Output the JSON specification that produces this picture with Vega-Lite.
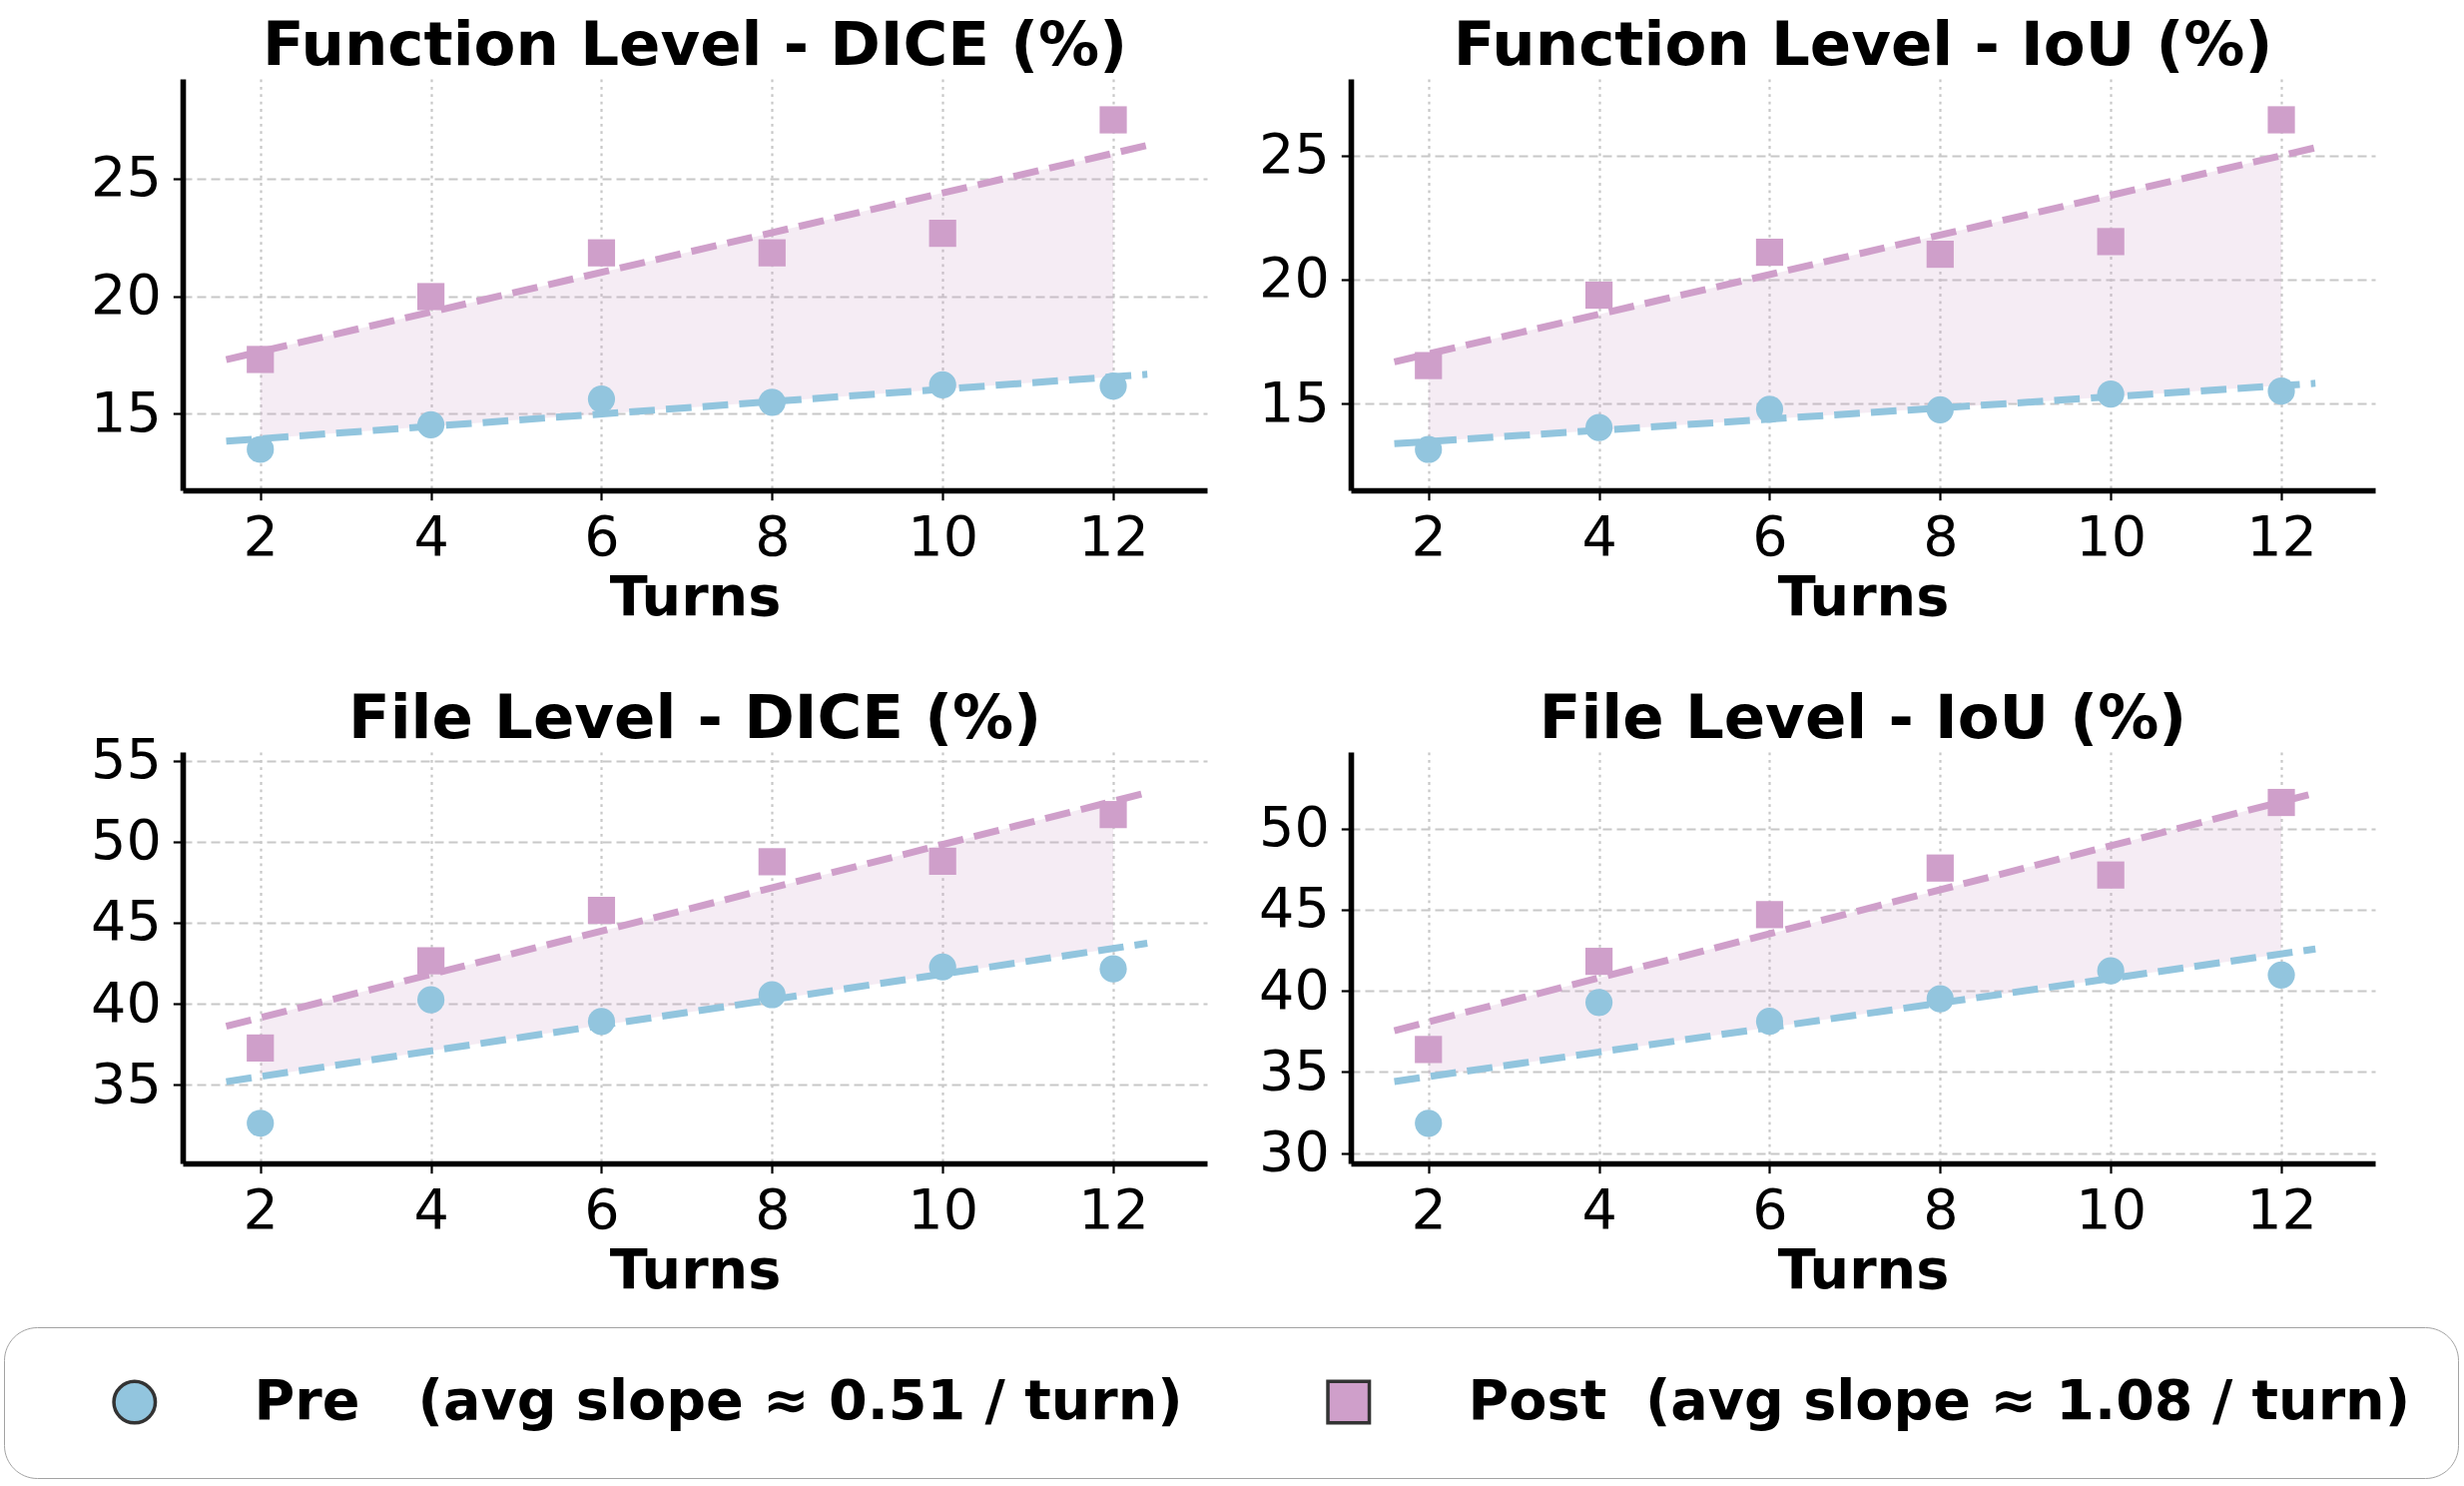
{
  "$schema": "https://vega.github.io/schema/vega-lite/v6.json",
  "padding": {"left": 3, "top": 16, "right": 0, "bottom": 0},
  "background": "white",
  "data": {"values": [
    {"panel": "fd", "turns": 2, "series": "Pre", "value": 13.49},
    {"panel": "fd", "turns": 4, "series": "Pre", "value": 14.53},
    {"panel": "fd", "turns": 6, "series": "Pre", "value": 15.63},
    {"panel": "fd", "turns": 8, "series": "Pre", "value": 15.49},
    {"panel": "fd", "turns": 10, "series": "Pre", "value": 16.23},
    {"panel": "fd", "turns": 12, "series": "Pre", "value": 16.18},
    {"panel": "fd", "turns": 2, "series": "Post", "value": 17.31},
    {"panel": "fd", "turns": 4, "series": "Post", "value": 19.98},
    {"panel": "fd", "turns": 6, "series": "Post", "value": 21.84},
    {"panel": "fd", "turns": 8, "series": "Post", "value": 21.84},
    {"panel": "fd", "turns": 10, "series": "Post", "value": 22.67},
    {"panel": "fd", "turns": 12, "series": "Post", "value": 27.49},
    {"panel": "fi", "turns": 2, "series": "Pre", "value": 13.15},
    {"panel": "fi", "turns": 4, "series": "Pre", "value": 14.03},
    {"panel": "fi", "turns": 6, "series": "Pre", "value": 14.77},
    {"panel": "fi", "turns": 8, "series": "Pre", "value": 14.75},
    {"panel": "fi", "turns": 10, "series": "Pre", "value": 15.38},
    {"panel": "fi", "turns": 12, "series": "Pre", "value": 15.5},
    {"panel": "fi", "turns": 2, "series": "Post", "value": 16.53},
    {"panel": "fi", "turns": 4, "series": "Post", "value": 19.37},
    {"panel": "fi", "turns": 6, "series": "Post", "value": 21.1},
    {"panel": "fi", "turns": 8, "series": "Post", "value": 21.02},
    {"panel": "fi", "turns": 10, "series": "Post", "value": 21.53},
    {"panel": "fi", "turns": 12, "series": "Post", "value": 26.44},
    {"panel": "ld", "turns": 2, "series": "Pre", "value": 32.63},
    {"panel": "ld", "turns": 4, "series": "Pre", "value": 40.25},
    {"panel": "ld", "turns": 6, "series": "Pre", "value": 38.91},
    {"panel": "ld", "turns": 8, "series": "Pre", "value": 40.56},
    {"panel": "ld", "turns": 10, "series": "Pre", "value": 42.27},
    {"panel": "ld", "turns": 12, "series": "Pre", "value": 42.15},
    {"panel": "ld", "turns": 2, "series": "Post", "value": 37.27},
    {"panel": "ld", "turns": 4, "series": "Post", "value": 42.65},
    {"panel": "ld", "turns": 6, "series": "Post", "value": 45.76},
    {"panel": "ld", "turns": 8, "series": "Post", "value": 48.76},
    {"panel": "ld", "turns": 10, "series": "Post", "value": 48.79},
    {"panel": "ld", "turns": 12, "series": "Post", "value": 51.67},
    {"panel": "li", "turns": 2, "series": "Pre", "value": 31.84},
    {"panel": "li", "turns": 4, "series": "Pre", "value": 39.29},
    {"panel": "li", "turns": 6, "series": "Pre", "value": 38.13},
    {"panel": "li", "turns": 8, "series": "Pre", "value": 39.52},
    {"panel": "li", "turns": 10, "series": "Pre", "value": 41.24},
    {"panel": "li", "turns": 12, "series": "Pre", "value": 40.98},
    {"panel": "li", "turns": 2, "series": "Post", "value": 36.39},
    {"panel": "li", "turns": 4, "series": "Post", "value": 41.82},
    {"panel": "li", "turns": 6, "series": "Post", "value": 44.7},
    {"panel": "li", "turns": 8, "series": "Post", "value": 47.57},
    {"panel": "li", "turns": 10, "series": "Post", "value": 47.14},
    {"panel": "li", "turns": 12, "series": "Post", "value": 51.61}
  ]},
  "columns": 2,
  "spacing": {"row": 262, "column": 144},
  "bounds": "flush",
  "concat": [
    {
      "width": 1026, "height": 412,
      "title": {"text": "Function Level - DICE (%)"},
      "transform": [{"filter": "datum.panel === 'fd'"}],
      "encoding": {"x": {"field": "turns", "type": "quantitative", "scale": {"domain": [1.09, 13.1], "nice": false, "zero": false}, "axis": {"values": [2, 4, 6, 8, 10, 12], "title": "Turns"}}},
      "layer": [
        {"transform": [{"regression": "value", "on": "turns", "groupby": ["series"], "extent": [2, 12]}, {"pivot": "series", "value": "value", "groupby": ["turns"]}],
         "mark": {"type": "area", "color": "#CF9FCA", "opacity": 0.2},
         "encoding": {"y": {"field": "Post", "type": "quantitative", "scale": {"domain": [11.75, 29.23], "nice": false, "zero": false}, "axis": {"values": [15, 20, 25], "title": null}}, "y2": {"field": "Pre"}}},
        {"transform": [{"regression": "value", "on": "turns", "groupby": ["series"], "extent": [1.6, 12.4]}],
         "mark": {"type": "line", "strokeWidth": 7, "strokeDash": [25.7, 11.1]},
         "encoding": {"y": {"field": "value", "type": "quantitative", "scale": {"domain": [11.75, 29.23], "nice": false, "zero": false}, "axis": {"values": [15, 20, 25], "title": null}}, "detail": {"field": "series"}, "color": {"condition": {"test": "datum.series === 'Pre'", "value": "#92C5DE"}, "value": "#CF9FCA"}}},
        {"mark": {"type": "point", "filled": true, "opacity": 1},
         "encoding": {"y": {"field": "value", "type": "quantitative", "scale": {"domain": [11.75, 29.23], "nice": false, "zero": false}, "axis": {"values": [15, 20, 25], "title": null}},
           "color": {"field": "series", "type": "nominal", "scale": {"domain": ["Pre", "Post"], "range": ["#92C5DE", "#CF9FCA"]},
             "legend": {"title": null, "orient": "none", "legendX": -179, "legendY": 1250, "direction": "horizontal",
               "labelExpr": "datum.value === 'Pre' ? 'Pre\u00a0\u00a0\u00a0(avg slope \u2248 0.51 / turn)' : 'Post\u00a0\u00a0(avg slope \u2248 1.08 / turn)'",
               "symbolOffset": 56, "labelOffset": 92, "columnPadding": 82, "padding": 47,
               "strokeColor": "#a3a3a3", "cornerRadius": 33, "fillColor": "#ffffff",
               "symbolSize": 1722, "symbolStrokeColor": "#333333", "symbolStrokeWidth": 3.5,
               "labelFont": "DejaVu Sans", "labelFontSize": 55.6, "labelFontWeight": "bold", "labelColor": "#000000", "labelLimit": 3000,
               "encode": {"legend": {"update": {"strokeWidth": {"value": 4}}}, "symbols": {"update": {"size": {"signal": "datum.value === 'Pre' ? 992 : 1722"}, "stroke": {"value": "#333333"}, "strokeWidth": {"value": 3.5}}}}}},
           "shape": {"field": "series", "type": "nominal", "scale": {"domain": ["Pre", "Post"], "range": ["circle", "square"]}},
           "size": {"value": 740}}}
      ]
    },
    {
      "width": 1026, "height": 412,
      "title": {"text": "Function Level - IoU (%)"},
      "transform": [{"filter": "datum.panel === 'fi'"}],
      "encoding": {"x": {"field": "turns", "type": "quantitative", "scale": {"domain": [1.09, 13.1], "nice": false, "zero": false}, "axis": {"values": [2, 4, 6, 8, 10, 12], "title": "Turns"}}},
      "layer": [
        {"transform": [{"regression": "value", "on": "turns", "groupby": ["series"], "extent": [2, 12]}, {"pivot": "series", "value": "value", "groupby": ["turns"]}],
         "mark": {"type": "area", "color": "#CF9FCA", "opacity": 0.2},
         "encoding": {"y": {"field": "Post", "type": "quantitative", "scale": {"domain": [11.5, 28.09], "nice": false, "zero": false}, "axis": {"values": [15, 20, 25], "title": null}}, "y2": {"field": "Pre"}}},
        {"transform": [{"regression": "value", "on": "turns", "groupby": ["series"], "extent": [1.6, 12.4]}],
         "mark": {"type": "line", "strokeWidth": 7, "strokeDash": [25.7, 11.1]},
         "encoding": {"y": {"field": "value", "type": "quantitative", "scale": {"domain": [11.5, 28.09], "nice": false, "zero": false}, "axis": {"values": [15, 20, 25], "title": null}}, "detail": {"field": "series"}, "color": {"condition": {"test": "datum.series === 'Pre'", "value": "#92C5DE"}, "value": "#CF9FCA"}}},
        {"mark": {"type": "point", "filled": true, "opacity": 1},
         "encoding": {"y": {"field": "value", "type": "quantitative", "scale": {"domain": [11.5, 28.09], "nice": false, "zero": false}, "axis": {"values": [15, 20, 25], "title": null}},
           "color": {"field": "series", "type": "nominal", "scale": {"domain": ["Pre", "Post"], "range": ["#92C5DE", "#CF9FCA"]}},
           "shape": {"field": "series", "type": "nominal", "scale": {"domain": ["Pre", "Post"], "range": ["circle", "square"]}},
           "size": {"value": 740}}}
      ]
    },
    {
      "width": 1026, "height": 412,
      "title": {"text": "File Level - DICE (%)", "offset": -17.7},
      "transform": [{"filter": "datum.panel === 'ld'"}],
      "encoding": {"x": {"field": "turns", "type": "quantitative", "scale": {"domain": [1.09, 13.1], "nice": false, "zero": false}, "axis": {"values": [2, 4, 6, 8, 10, 12], "title": "Turns"}}},
      "layer": [
        {"transform": [{"regression": "value", "on": "turns", "groupby": ["series"], "extent": [2, 12]}, {"pivot": "series", "value": "value", "groupby": ["turns"]}],
         "mark": {"type": "area", "color": "#CF9FCA", "opacity": 0.2},
         "encoding": {"y": {"field": "Post", "type": "quantitative", "scale": {"domain": [30.15, 55.53], "nice": false, "zero": false}, "axis": {"values": [35, 40, 45, 50, 55], "title": null}}, "y2": {"field": "Pre"}}},
        {"transform": [{"regression": "value", "on": "turns", "groupby": ["series"], "extent": [1.6, 12.4]}],
         "mark": {"type": "line", "strokeWidth": 7, "strokeDash": [25.7, 11.1]},
         "encoding": {"y": {"field": "value", "type": "quantitative", "scale": {"domain": [30.15, 55.53], "nice": false, "zero": false}, "axis": {"values": [35, 40, 45, 50, 55], "title": null}}, "detail": {"field": "series"}, "color": {"condition": {"test": "datum.series === 'Pre'", "value": "#92C5DE"}, "value": "#CF9FCA"}}},
        {"mark": {"type": "point", "filled": true, "opacity": 1},
         "encoding": {"y": {"field": "value", "type": "quantitative", "scale": {"domain": [30.15, 55.53], "nice": false, "zero": false}, "axis": {"values": [35, 40, 45, 50, 55], "title": null}},
           "color": {"field": "series", "type": "nominal", "scale": {"domain": ["Pre", "Post"], "range": ["#92C5DE", "#CF9FCA"]}},
           "shape": {"field": "series", "type": "nominal", "scale": {"domain": ["Pre", "Post"], "range": ["circle", "square"]}},
           "size": {"value": 740}}}
      ]
    },
    {
      "width": 1026, "height": 412,
      "title": {"text": "File Level - IoU (%)"},
      "transform": [{"filter": "datum.panel === 'li'"}],
      "encoding": {"x": {"field": "turns", "type": "quantitative", "scale": {"domain": [1.09, 13.1], "nice": false, "zero": false}, "axis": {"values": [2, 4, 6, 8, 10, 12], "title": "Turns"}}},
      "layer": [
        {"transform": [{"regression": "value", "on": "turns", "groupby": ["series"], "extent": [2, 12]}, {"pivot": "series", "value": "value", "groupby": ["turns"]}],
         "mark": {"type": "area", "color": "#CF9FCA", "opacity": 0.2},
         "encoding": {"y": {"field": "Post", "type": "quantitative", "scale": {"domain": [29.37, 54.72], "nice": false, "zero": false}, "axis": {"values": [30, 35, 40, 45, 50], "title": null}}, "y2": {"field": "Pre"}}},
        {"transform": [{"regression": "value", "on": "turns", "groupby": ["series"], "extent": [1.6, 12.4]}],
         "mark": {"type": "line", "strokeWidth": 7, "strokeDash": [25.7, 11.1]},
         "encoding": {"y": {"field": "value", "type": "quantitative", "scale": {"domain": [29.37, 54.72], "nice": false, "zero": false}, "axis": {"values": [30, 35, 40, 45, 50], "title": null}}, "detail": {"field": "series"}, "color": {"condition": {"test": "datum.series === 'Pre'", "value": "#92C5DE"}, "value": "#CF9FCA"}}},
        {"mark": {"type": "point", "filled": true, "opacity": 1},
         "encoding": {"y": {"field": "value", "type": "quantitative", "scale": {"domain": [29.37, 54.72], "nice": false, "zero": false}, "axis": {"values": [30, 35, 40, 45, 50], "title": null}},
           "color": {"field": "series", "type": "nominal", "scale": {"domain": ["Pre", "Post"], "range": ["#92C5DE", "#CF9FCA"]}},
           "shape": {"field": "series", "type": "nominal", "scale": {"domain": ["Pre", "Post"], "range": ["circle", "square"]}},
           "size": {"value": 740}}}
      ]
    }
  ],
  "config": {
    "view": {"stroke": null},
    "font": "DejaVu Sans",
    "title": {"font": "DejaVu Sans", "fontSize": 61, "fontWeight": "bold", "color": "#000000", "baseline": "alphabetic", "offset": 1, "anchor": "middle"},
    "axis": {"labelFont": "DejaVu Sans", "titleFont": "DejaVu Sans", "labelFontSize": 55.6, "titleFontSize": 55.6, "titleFontWeight": "bold", "labelColor": "#000000", "titleColor": "#000000", "domainColor": "#000000", "domainWidth": 5.6, "tickColor": "#000000", "tickWidth": 2.2, "tickSize": 9.7, "gridColor": "#c8c8c8", "gridWidth": 2.2, "labelFlush": false, "labelOverlap": false},
    "axisX": {"gridDash": [2.8, 4.6], "labelPadding": 11, "titlePadding": 4},
    "axisY": {"gridDash": [9, 5], "labelPadding": 12}
  }
}
